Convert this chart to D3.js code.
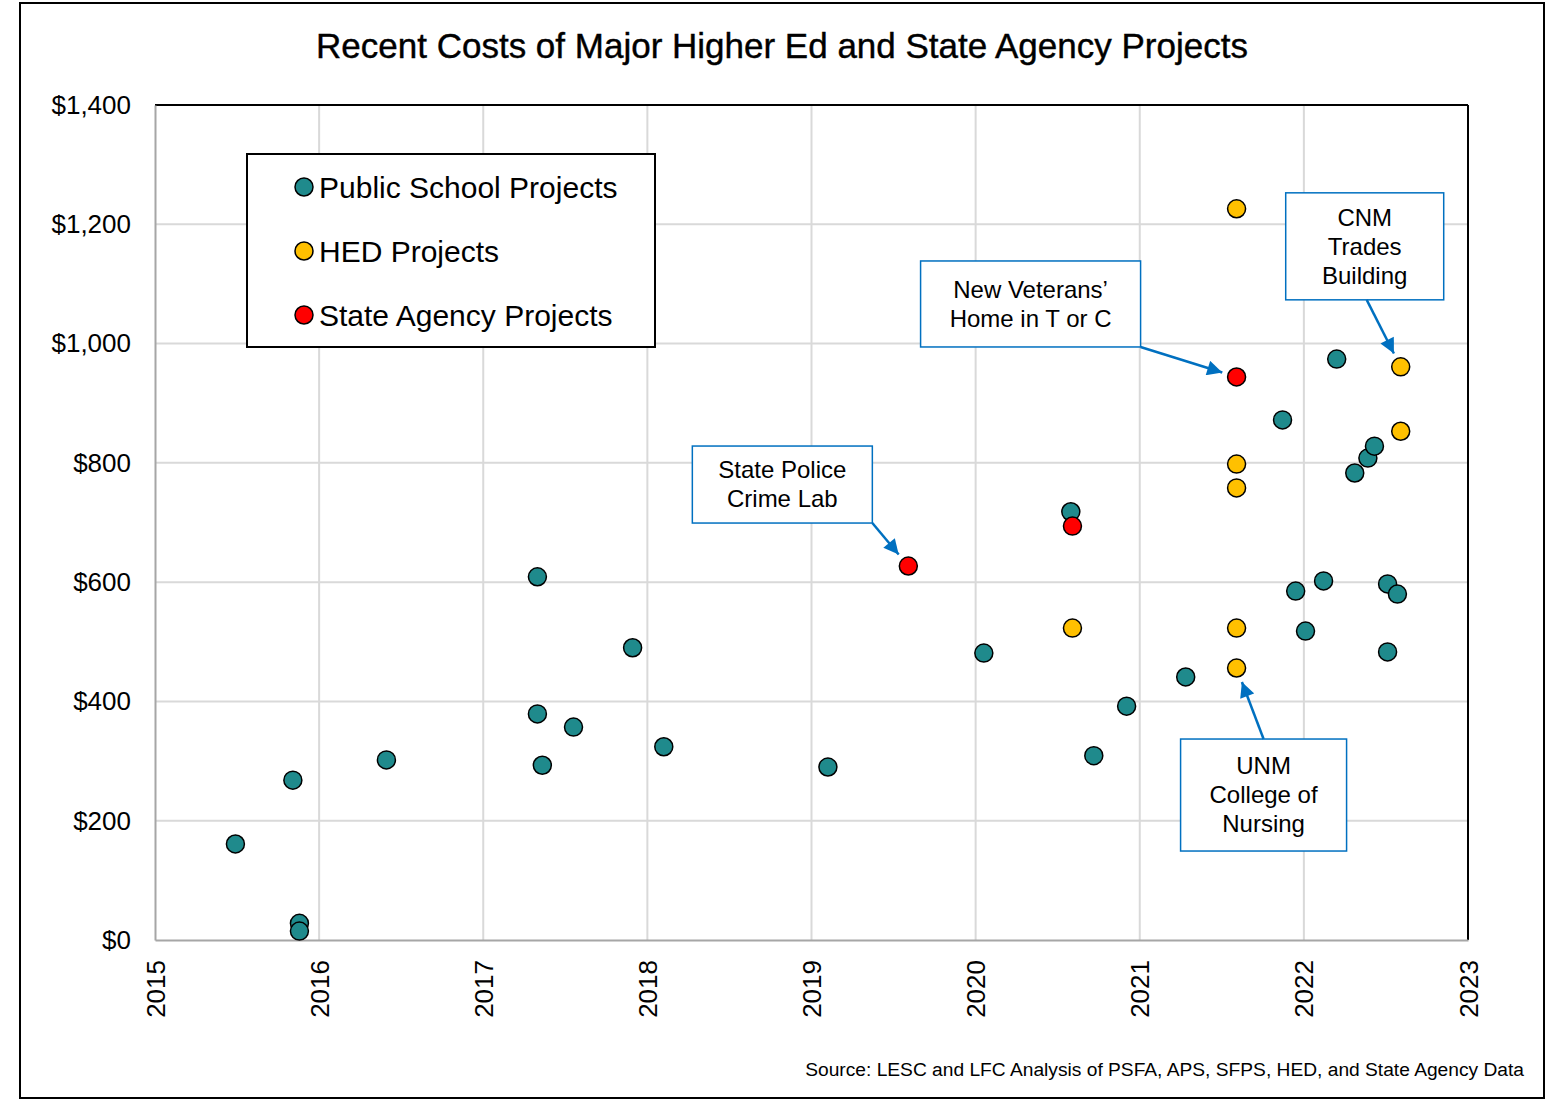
<!DOCTYPE html>
<html>
<head>
<meta charset="utf-8">
<script src="https://cdn.jsdelivr.net/npm/d3@7"></script>
<style>
  body { margin: 0; background: #fff; }
  text { font-family: "Liberation Sans", Arial, sans-serif; fill: #000; }
</style>
</head>
<body>
<svg id="chart" width="1562" height="1102"></svg>
<script>
// data: year (decimal), cost ($ millions)
const publicYears = [2015.49, 2015.84, 2015.88, 2015.88, 2016.41, 2017.33, 2017.33, 2017.36, 2017.55, 2017.91,
  2018.10, 2019.10, 2020.05, 2020.58, 2020.72, 2020.92, 2021.28, 2021.87, 2021.95, 2022.01,
  2022.12, 2022.20, 2022.31, 2022.39, 2022.43, 2022.51, 2022.51, 2022.57];
const publicCosts = [161, 268, 28, 15, 302, 609, 379, 293, 357, 490,
  324, 290, 481, 718, 309, 392, 441, 872, 585, 518,
  602, 974, 783, 808, 828, 597, 483, 580];
const hedYears = [2020.59, 2021.59, 2021.59, 2021.59, 2021.59, 2021.59, 2022.59, 2022.59];
const hedCosts = [523, 1226, 798, 758, 523, 456, 961, 853];
const agencyYears = [2019.59, 2020.59, 2021.59];
const agencyCosts = [627, 694, 944];

const seriesNames = ["Public School Projects", "HED Projects", "State Agency Projects"];
const seriesColors = ["#1f8a8c", "#ffc000", "#ff0000"];
const yearTicks = [2015, 2016, 2017, 2018, 2019, 2020, 2021, 2022, 2023];
const costTicks = [0, 200, 400, 600, 800, 1000, 1200, 1400];

// callouts point at a data point; box offset is layout only
const callouts = [
  { lines: ["State Police", "Crime Lab"], year: 2019.59, cost: 627, box: [-216, -120, 180, 77], from: [180, 77] },
  { lines: ["New Veterans\u2019", "Home in T or C"], year: 2021.59, cost: 944, box: [-316, -116, 220, 86], from: [220, 86] },
  { lines: ["CNM", "Trades", "Building"], year: 2022.59, cost: 961, box: [-115, -174, 158, 107], from: [81, 107] },
  { lines: ["UNM", "College of", "Nursing"], year: 2021.59, cost: 456, box: [-56, 71, 166, 112], from: [83, 0] }
];

const svg = d3.select("#chart");
const margin = { left: 155, top: 105, right: 94, bottom: 162 };
const W = 1562, H = 1102;
const innerW = W - margin.left - margin.right;
const innerH = H - margin.top - margin.bottom;

svg.append("rect").attr("x", 20).attr("y", 3).attr("width", 1524).attr("height", 1095)
  .attr("fill", "#fff").attr("stroke", "#000").attr("stroke-width", 2);

svg.append("text").attr("x", 782).attr("y", 58).attr("text-anchor", "middle")
  .attr("font-size", 35).attr("stroke", "#000").attr("stroke-width", 0.4)
  .text("Recent Costs of Major Higher Ed and State Agency Projects");

const x = d3.scaleLinear().domain([2015, 2023]).range([0, innerW]);
const y = d3.scaleLinear().domain([0, 1400]).range([innerH, 0]);

const g = svg.append("g").attr("transform", `translate(${margin.left}, ${margin.top})`);

// grid
g.append("g").selectAll("line").data(yearTicks.slice(1, -1)).join("line")
  .attr("x1", (d) => x(d)).attr("x2", (d) => x(d)).attr("y1", 0).attr("y2", innerH)
  .attr("stroke", "#d9d9d9").attr("stroke-width", 2);
g.append("g").selectAll("line").data(costTicks.slice(1, -1)).join("line")
  .attr("x1", 0).attr("x2", innerW).attr("y1", (d) => y(d)).attr("y2", (d) => y(d))
  .attr("stroke", "#d9d9d9").attr("stroke-width", 2);

// frame: black top/right, gray axes
g.append("line").attr("x1", 0).attr("x2", innerW).attr("y1", 0).attr("y2", 0).attr("stroke", "#000").attr("stroke-width", 2);
g.append("line").attr("x1", innerW).attr("x2", innerW).attr("y1", 0).attr("y2", innerH).attr("stroke", "#000").attr("stroke-width", 2);

const yAxis = d3.axisLeft(y).tickValues(costTicks).tickSize(0).tickPadding(24).tickFormat((d) => "$" + d3.format(",")(d));
g.append("g").call(yAxis)
  .call((a) => a.select(".domain").attr("stroke", "#a6a6a6").attr("stroke-width", 2))
  .call((a) => a.selectAll("text").attr("font-size", 26).attr("font-family", "Liberation Sans").attr("fill", "#000"));

const xAxis = d3.axisBottom(x).tickValues(yearTicks).tickSize(0).tickFormat(d3.format("d"));
g.append("g").attr("transform", `translate(0, ${innerH})`).call(xAxis)
  .call((a) => a.select(".domain").attr("stroke", "#a6a6a6").attr("stroke-width", 2))
  .call((a) => a.selectAll("text")
    .attr("font-size", 26).attr("font-family", "Liberation Sans").attr("fill", "#000")
    .attr("text-anchor", "end").attr("transform", "rotate(-90)")
    .attr("x", -20).attr("y", 0).attr("dy", "0.35em"));

// points
const series = [
  publicYears.map((d, i) => ({ year: d, cost: publicCosts[i] })),
  hedYears.map((d, i) => ({ year: d, cost: hedCosts[i] })),
  agencyYears.map((d, i) => ({ year: d, cost: agencyCosts[i] }))
];
series.forEach((pts, s) => {
  g.append("g").selectAll("circle").data(pts).join("circle")
    .attr("cx", (d) => x(d.year)).attr("cy", (d) => y(d.cost)).attr("r", 9)
    .attr("fill", seriesColors[s]).attr("stroke", "#000").attr("stroke-width", 1.5);
});

// legend
const legend = svg.append("g").attr("transform", "translate(247, 154)");
legend.append("rect").attr("width", 408).attr("height", 193).attr("fill", "#fff").attr("stroke", "#000").attr("stroke-width", 2);
seriesNames.forEach((name, i) => {
  legend.append("circle").attr("cx", 57).attr("cy", 33 + i * 64).attr("r", 9)
    .attr("fill", seriesColors[i]).attr("stroke", "#000").attr("stroke-width", 1.5);
  legend.append("text").attr("x", 72).attr("y", 33 + i * 64).attr("dy", "0.35em")
    .attr("font-size", 30).text(name);
});

// callouts
svg.append("defs").append("marker").attr("id", "arrow").attr("viewBox", "0 0 10 10")
  .attr("refX", 10).attr("refY", 5).attr("markerWidth", 6.5).attr("markerHeight", 6)
  .attr("orient", "auto").attr("markerUnits", "strokeWidth")
  .append("path").attr("d", "M0,0 L10,5 L0,10 z").attr("fill", "#0070c0");

callouts.forEach((c) => {
  const px = margin.left + x(c.year), py = margin.top + y(c.cost);
  const bx = px + c.box[0], by = py + c.box[1];
  const cg = svg.append("g");
  cg.append("rect").attr("x", bx).attr("y", by).attr("width", c.box[2]).attr("height", c.box[3])
    .attr("fill", "#fff").attr("stroke", "#0070c0").attr("stroke-width", 1.5);
  const lh = 29;
  const startY = by + c.box[3] / 2 - (c.lines.length - 1) * lh / 2;
  c.lines.forEach((l, i) => {
    cg.append("text").attr("x", bx + c.box[2] / 2).attr("y", startY + i * lh).attr("dy", "0.35em")
      .attr("text-anchor", "middle").attr("font-size", 24).text(l);
  });
  const fx = bx + c.from[0], fy = by + c.from[1];
  const dx = px - fx, dy = py - fy, len = Math.hypot(dx, dy);
  const stop = 15;
  cg.append("line").attr("x1", fx).attr("y1", fy)
    .attr("x2", px - dx / len * stop).attr("y2", py - dy / len * stop)
    .attr("stroke", "#0070c0").attr("stroke-width", 2.5).attr("marker-end", "url(#arrow)");
});

svg.append("text").attr("x", 1524).attr("y", 1076).attr("text-anchor", "end")
  .attr("font-size", 19.2).attr("font-family", "Liberation Sans Narrow").text("Source: LESC and LFC Analysis of PSFA, APS, SFPS, HED, and State Agency Data");
</script>
</body>
</html>
